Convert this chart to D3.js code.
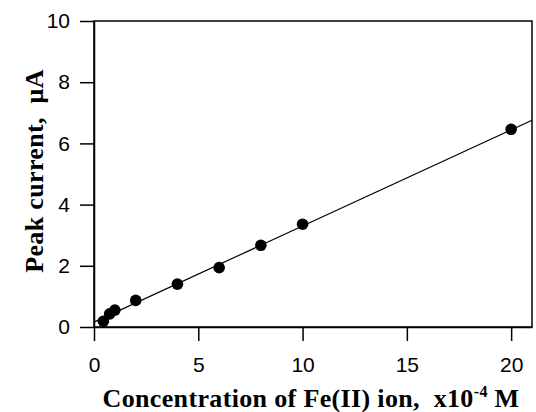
<!DOCTYPE html>
<html lang="en">
<head>
<meta charset="UTF-8">
<title>Peak current vs Fe(II)</title>
<script src="https://d3js.org/d3.v7.min.js"></script>
<style>
    body { margin: 0; background: #fff; }
    .tick text { font-family: "Liberation Sans", Arial, sans-serif; font-size: 21px; fill: #000; }
    .tick line, .domain { stroke: #000; stroke-width: 1.5px; }
    .label { font-family: "Liberation Serif", "Times New Roman", serif; font-weight: bold; font-size: 26px; fill: #000; letter-spacing: 0.35px; }
</style>
</head>
<body>
<div id="fig"></div>
<script>
    // concentration x10^-4 M and peak current uA
    let conc = [0.45, 0.75, 1.0, 2.0, 4.0, 6.0, 8.0, 10.0, 20.0]
    let current = [0.19, 0.43, 0.55, 0.87, 1.40, 1.94, 2.67, 3.36, 6.46]
    // linear fit
    let fitSlope = 0.314
    let fitIntercept = 0.16
    let xTicks = [0, 5, 10, 15, 20]
    let yTicks = [0, 2, 4, 6, 8, 10]

    let w = 536, h = 412
    let margin = {left: 94, right: 4, top: 21, bottom: 85}

    let svg = d3.select("#fig").append("svg")
        .attr("width", w).attr("height", h)

    let xScale = d3.scaleLinear().domain([0, 21]).range([margin.left, w - margin.right])
    let yScale = d3.scaleLinear().domain([0, 10]).range([h - margin.bottom, margin.top])

    // frame
    svg.append("rect")
        .attr("x", margin.left).attr("y", margin.top)
        .attr("width", xScale(21) - margin.left)
        .attr("height", yScale(0) - margin.top)
        .attr("fill", "none").attr("stroke", "#000").attr("stroke-width", 1.5)

    let xAxis = d3.axisBottom(xScale).tickValues(xTicks).tickSize(14).tickPadding(16).tickSizeOuter(0)
    let yAxis = d3.axisLeft(yScale).tickValues(yTicks).tickSize(14).tickPadding(10).tickSizeOuter(0)

    svg.append("g")
        .attr("transform", `translate(0,${yScale(0)})`)
        .call(xAxis)
    svg.append("g")
        .attr("transform", `translate(${margin.left},0)`)
        .call(yAxis)

    // fit line
    let xd = xScale.domain()
    svg.append("line")
        .attr("x1", xScale(xd[0])).attr("y1", yScale(fitIntercept + fitSlope * xd[0]))
        .attr("x2", xScale(xd[1])).attr("y2", yScale(fitIntercept + fitSlope * xd[1]))
        .attr("stroke", "#000").attr("stroke-width", 1.2)

    svg.selectAll(".dot")
        .data(conc)
        .enter()
        .append("circle")
        .attr("class", "dot")
        .attr("cx", d => xScale(d))
        .attr("cy", (d, i) => yScale(current[i]))
        .attr("r", 5.8)
        .attr("fill", "#000")

    // axis titles
    let xl = svg.append("text").attr("class", "label")
        .attr("x", 311).attr("y", 407)
        .attr("text-anchor", "middle")
    xl.append("tspan").text("Concentration of Fe(II) ion,\u00a0\u00a0x10")
    xl.append("tspan").attr("dy", -10).attr("font-size", 16).text("-4")
    xl.append("tspan").attr("dy", 10).text(" M")

    svg.append("text").attr("class", "label")
        .attr("transform", `translate(43,171) rotate(-90)`)
        .attr("text-anchor", "middle")
        .text("Peak current,\u00a0\u00a0\u03bcA")
</script>
</body>
</html>
